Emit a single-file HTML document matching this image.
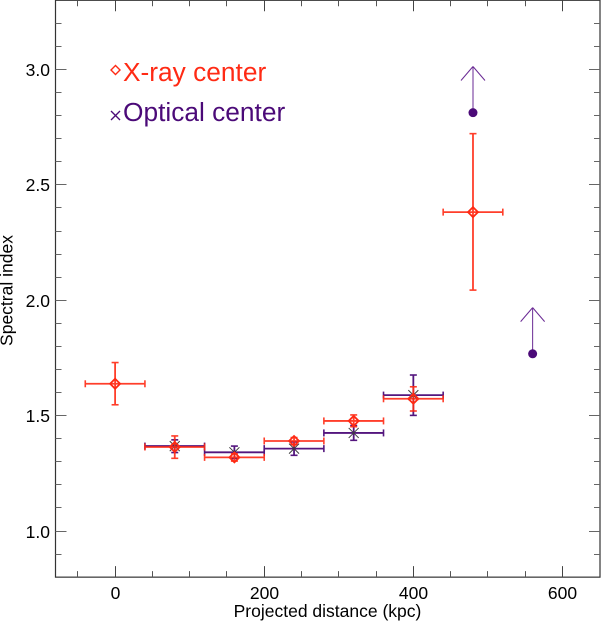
<!DOCTYPE html>
<html>
<head>
<meta charset="utf-8">
<style>
html,body{margin:0;padding:0;background:#fff;}
svg{display:block;}
text{font-family:"Liberation Sans",sans-serif;}
</style>
</head>
<body>
<svg id="chart" width="601" height="622" viewBox="0 0 601 622" xmlns="http://www.w3.org/2000/svg"></svg>
<script>
const xTicksMajor = [0, 200, 400, 600];
const xTicksMinor = [-50, 50, 100, 150, 250, 300, 350, 450, 500, 550];
const yTicksMajor = [1.0, 1.5, 2.0, 2.5, 3.0];
const yTicksMinor = [0.9, 1.1, 1.2, 1.3, 1.4, 1.6, 1.7, 1.8, 1.9, 2.1, 2.2, 2.3, 2.4, 2.6, 2.7, 2.8, 2.9, 3.1, 3.2];
const xrayX = [0, 80, 160, 240, 320, 400, 480];
const xrayY = [1.638, 1.364, 1.319, 1.39, 1.477, 1.573, 2.382];
const xrayYHigh = [1.73, 1.412, 1.335, 1.405, 1.503, 1.625, 2.722];
const xrayYLow = [1.547, 1.315, 1.303, 1.375, 1.452, 1.52, 2.044];
const xrayXErr = [40, 40, 40, 40, 40, 40, 40];
const opticalX = [80, 160, 240, 320, 400];
const opticalY = [1.368, 1.341, 1.357, 1.425, 1.589];
const opticalYHigh = [1.395, 1.368, 1.386, 1.457, 1.676];
const opticalYLow = [1.34, 1.314, 1.328, 1.393, 1.501];
const opticalXErr = [40, 40, 40, 40, 40];
const limitX = [480, 560];
const limitY = [2.813, 1.768];
const limitArrow = [0.2, 0.2];

const X0 = 115.1, XS = 0.7456, Y0 = 531, YS = 230.75;
const xScale = v => X0 + v * XS;
const yScale = v => Y0 - (v - 1) * YS;
const plotLeft = 55.5, plotRight = 600, plotBottom = yScale(0.8), plotTop = yScale(3.3);
const svg = document.getElementById('chart');
const NS = 'http://www.w3.org/2000/svg';
const RED = '#ff2a14', PURPLE = '#4b0a78';

function add(tag, attrs, parent) {
  const el = document.createElementNS(NS, tag);
  for (const k in attrs) el.setAttribute(k, attrs[k]);
  (parent || svg).appendChild(el);
  return el;
}
function drawLine(x1, y1, x2, y2, stroke, w, parent) {
  return add('line', {x1, y1, x2, y2, stroke, 'stroke-width': w}, parent);
}
function drawText(str, x, y, size, anchor, fill, parent) {
  const t = add('text', {x, y, 'font-size': size, 'text-anchor': anchor, fill}, parent);
  t.textContent = str;
  return t;
}

const axes = add('g', {});


const frame = add('rect', {x: plotLeft, y: plotTop, width: plotRight - plotLeft, height: plotBottom - plotTop, fill: 'none', stroke: '#333', 'stroke-width': 1.2}, axes);



const xTicks = add('g', {}, axes);


xTicksMajor.forEach(v => {
  const x = Math.floor(xScale(v)) + 0.5;
  drawLine(x, plotBottom, x, plotBottom - 11, '#444', 1, xTicks);
  drawLine(x, plotTop, x, plotTop + 11, '#444', 1, xTicks);
  const t = drawText(String(v), x, 599, 17.5, 'middle', '#000', xTicks);
  
  
});
xTicksMinor.forEach(v => {
  const x = Math.floor(xScale(v)) + 0.5;
  drawLine(x, plotBottom, x, plotBottom - 6, '#555', 1, xTicks);
  drawLine(x, plotTop, x, plotTop + 6, '#555', 1, xTicks);
});

const yTicks = add('g', {}, axes);


yTicksMajor.forEach(v => {
  const y = Math.round(yScale(v) - 0.5) + 0.5;
  drawLine(plotLeft, y, plotLeft + 11, y, '#666', 1, yTicks);
  drawLine(plotRight, y, plotRight - 11, y, '#666', 1, yTicks);
  const t = drawText(v.toFixed(1), 50, y + 6.5, 17.5, 'end', '#000', yTicks);
  
  
});
yTicksMinor.forEach(v => {
  const y = Math.round(yScale(v) - 0.5) + 0.5;
  drawLine(plotLeft, y, plotLeft + 6, y, '#666', 1, yTicks);
  drawLine(plotRight, y, plotRight - 6, y, '#666', 1, yTicks);
});

const xTitle = drawText('Projected distance (kpc)', 327.5, 617, 17.5, 'middle', '#000');


const yTitle = drawText('Spectral index', 0, 0, 17.5, 'middle', '#000');
yTitle.setAttribute('transform', 'translate(12.5 290.5) rotate(-90)');



function errorBars(px, py, hi, lo, xe, color, parent) {
  const cx = xScale(px), cy = yScale(py);
  drawLine(xScale(px - xe), cy, xScale(px + xe), cy, color, 1.8, parent);
  drawLine(xScale(px - xe), cy - 3.5, xScale(px - xe), cy + 3.5, color, 1.6, parent);
  drawLine(xScale(px + xe), cy - 3.5, xScale(px + xe), cy + 3.5, color, 1.6, parent);
  drawLine(cx, yScale(hi), cx, yScale(lo), color, 1.8, parent);
  drawLine(cx - 3.5, yScale(hi), cx + 3.5, yScale(hi), color, 1.6, parent);
  drawLine(cx - 3.5, yScale(lo), cx + 3.5, yScale(lo), color, 1.6, parent);
}

const optical = add('g', {opacity: 0.95});


opticalX.forEach((px, i) => {
  errorBars(px, opticalY[i], opticalYHigh[i], opticalYLow[i], opticalXErr[i], PURPLE, optical);
  const cx = xScale(px), cy = yScale(opticalY[i]);
  drawLine(cx - 5, cy - 5, cx + 5, cy + 5, '#333', 1, optical);
  drawLine(cx - 5, cy + 5, cx + 5, cy - 5, '#333', 1, optical);
});

const xray = add('g', {opacity: 0.9});


xrayX.forEach((px, i) => {
  errorBars(px, xrayY[i], xrayYHigh[i], xrayYLow[i], xrayXErr[i], RED, xray);
});

const xrayMarkers = add('g', {});


xrayX.forEach((px, i) => {
  const cx = xScale(px), cy = yScale(xrayY[i]);
  add('path', {d: `M${cx - 5} ${cy}L${cx} ${cy - 5}L${cx + 5} ${cy}L${cx} ${cy + 5}Z`, fill: 'none', stroke: RED, 'stroke-width': 1.8}, xrayMarkers);
});

const limits = add('g', {});


limitX.forEach((px, i) => {
  const cx = xScale(px), cy = yScale(limitY[i]), tip = yScale(limitY[i] + limitArrow[i]);
  drawLine(cx, cy, cx, tip, '#6a2a94', 1, limits);
  drawLine(cx, tip, cx - 12, tip + 14, '#6a2a94', 1, limits);
  drawLine(cx, tip, cx + 12, tip + 14, '#6a2a94', 1, limits);
  add('circle', {cx, cy, r: 4.5, fill: PURPLE}, limits);
});

const legend = add('g', {});


const e1 = add('g', {}, legend);


add('path', {d: 'M111 70L115.5 65.5L120 70L115.5 74.5Z', fill: 'none', stroke: RED, 'stroke-width': 1.4}, e1);
drawText('X-ray center', 123, 81, 26.3, 'start', RED, e1);
const e2 = add('g', {}, legend);


drawLine(111, 111, 120, 120, PURPLE, 1.3, e2);
drawLine(111, 120, 120, 111, PURPLE, 1.3, e2);
drawText('Optical center', 123, 121, 26.3, 'start', PURPLE, e2);
</script>
</body>
</html>
